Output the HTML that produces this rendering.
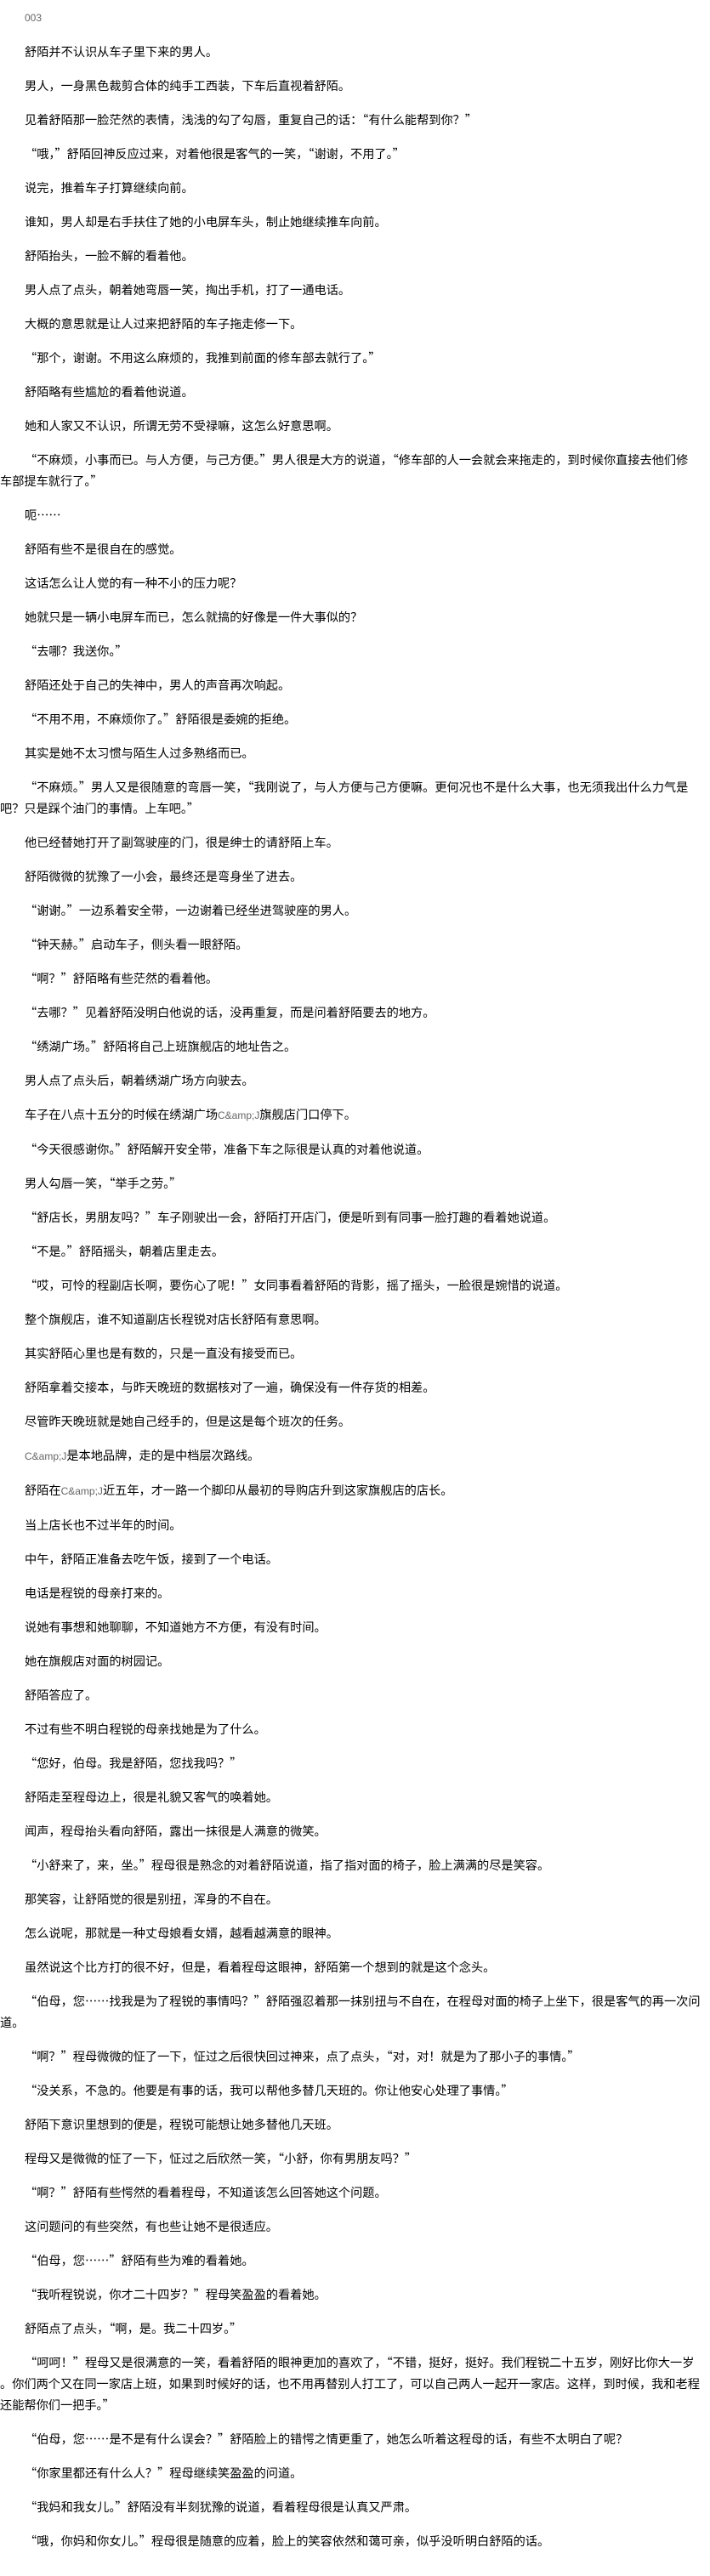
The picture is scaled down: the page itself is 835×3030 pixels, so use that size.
<!DOCTYPE html>
<html><head><meta charset="utf-8">
<style>
html,body{margin:0;padding:0;background:#fff;}
body{width:835px;height:3021px;overflow:hidden;font-family:"Noto Sans CJK SC","Liberation Sans",sans-serif;color:#000;}
.num{margin:9px 0 0 29px;height:25px;line-height:25px;font-size:12px;color:#666;font-family:"Liberation Sans",sans-serif;}
p{margin:15px 0 0 0;line-height:25px;font-size:14.2px;text-indent:29px;white-space:nowrap;font-family:"Noto Sans CJK SC","Liberation Sans",sans-serif;}
.c{color:#666;font-size:12px;font-family:"Liberation Sans",sans-serif;}
</style></head><body>
<div class="num">003</div>
<p>舒陌并不认识从车子里下来的男人。</p>
<p>男人，一身黑色裁剪合体的纯手工西装，下车后直视着舒陌。</p>
<p>见着舒陌那一脸茫然的表情，浅浅的勾了勾唇，重复自己的话：“有什么能帮到你？”</p>
<p>“哦，”舒陌回神反应过来，对着他很是客气的一笑，“谢谢，不用了。”</p>
<p>说完，推着车子打算继续向前。</p>
<p>谁知，男人却是右手扶住了她的小电屏车头，制止她继续推车向前。</p>
<p>舒陌抬头，一脸不解的看着他。</p>
<p>男人点了点头，朝着她弯唇一笑，掏出手机，打了一通电话。</p>
<p>大概的意思就是让人过来把舒陌的车子拖走修一下。</p>
<p>“那个，谢谢。不用这么麻烦的，我推到前面的修车部去就行了。”</p>
<p>舒陌略有些尴尬的看着他说道。</p>
<p>她和人家又不认识，所谓无劳不受禄嘛，这怎么好意思啊。</p>
<p>“不麻烦，小事而已。与人方便，与己方便。”男人很是大方的说道，“修车部的人一会就会来拖走的，到时候你直接去他们修<br>车部提车就行了。”</p>
<p>呃……</p>
<p>舒陌有些不是很自在的感觉。</p>
<p>这话怎么让人觉的有一种不小的压力呢？</p>
<p>她就只是一辆小电屏车而已，怎么就搞的好像是一件大事似的？</p>
<p>“去哪？我送你。”</p>
<p>舒陌还处于自己的失神中，男人的声音再次响起。</p>
<p>“不用不用，不麻烦你了。”舒陌很是委婉的拒绝。</p>
<p>其实是她不太习惯与陌生人过多熟络而已。</p>
<p>“不麻烦。”男人又是很随意的弯唇一笑，“我刚说了，与人方便与己方便嘛。更何况也不是什么大事，也无须我出什么力气是<br>吧？只是踩个油门的事情。上车吧。”</p>
<p>他已经替她打开了副驾驶座的门，很是绅士的请舒陌上车。</p>
<p>舒陌微微的犹豫了一小会，最终还是弯身坐了进去。</p>
<p>“谢谢。”一边系着安全带，一边谢着已经坐进驾驶座的男人。</p>
<p>“钟天赫。”启动车子，侧头看一眼舒陌。</p>
<p>“啊？”舒陌略有些茫然的看着他。</p>
<p>“去哪？”见着舒陌没明白他说的话，没再重复，而是问着舒陌要去的地方。</p>
<p>“绣湖广场。”舒陌将自己上班旗舰店的地址告之。</p>
<p>男人点了点头后，朝着绣湖广场方向驶去。</p>
<p>车子在八点十五分的时候在绣湖广场<span class="c">C&amp;amp;J</span>旗舰店门口停下。</p>
<p>“今天很感谢你。”舒陌解开安全带，准备下车之际很是认真的对着他说道。</p>
<p>男人勾唇一笑，“举手之劳。”</p>
<p>“舒店长，男朋友吗？”车子刚驶出一会，舒陌打开店门，便是听到有同事一脸打趣的看着她说道。</p>
<p>“不是。”舒陌摇头，朝着店里走去。</p>
<p>“哎，可怜的程副店长啊，要伤心了呢！”女同事看着舒陌的背影，摇了摇头，一脸很是婉惜的说道。</p>
<p>整个旗舰店，谁不知道副店长程锐对店长舒陌有意思啊。</p>
<p>其实舒陌心里也是有数的，只是一直没有接受而已。</p>
<p>舒陌拿着交接本，与昨天晚班的数据核对了一遍，确保没有一件存货的相差。</p>
<p>尽管昨天晚班就是她自己经手的，但是这是每个班次的任务。</p>
<p><span class="c">C&amp;amp;J</span>是本地品牌，走的是中档层次路线。</p>
<p>舒陌在<span class="c">C&amp;amp;J</span>近五年，才一路一个脚印从最初的导购店升到这家旗舰店的店长。</p>
<p>当上店长也不过半年的时间。</p>
<p>中午，舒陌正准备去吃午饭，接到了一个电话。</p>
<p>电话是程锐的母亲打来的。</p>
<p>说她有事想和她聊聊，不知道她方不方便，有没有时间。</p>
<p>她在旗舰店对面的树园记。</p>
<p>舒陌答应了。</p>
<p>不过有些不明白程锐的母亲找她是为了什么。</p>
<p>“您好，伯母。我是舒陌，您找我吗？”</p>
<p>舒陌走至程母边上，很是礼貌又客气的唤着她。</p>
<p>闻声，程母抬头看向舒陌，露出一抹很是人满意的微笑。</p>
<p>“小舒来了，来，坐。”程母很是熟念的对着舒陌说道，指了指对面的椅子，脸上满满的尽是笑容。</p>
<p>那笑容，让舒陌觉的很是别扭，浑身的不自在。</p>
<p>怎么说呢，那就是一种丈母娘看女婿，越看越满意的眼神。</p>
<p>虽然说这个比方打的很不好，但是，看着程母这眼神，舒陌第一个想到的就是这个念头。</p>
<p>“伯母，您……找我是为了程锐的事情吗？”舒陌强忍着那一抹别扭与不自在，在程母对面的椅子上坐下，很是客气的再一次问<br>道。</p>
<p>“啊？”程母微微的怔了一下，怔过之后很快回过神来，点了点头，“对，对！就是为了那小子的事情。”</p>
<p>“没关系，不急的。他要是有事的话，我可以帮他多替几天班的。你让他安心处理了事情。”</p>
<p>舒陌下意识里想到的便是，程锐可能想让她多替他几天班。</p>
<p>程母又是微微的怔了一下，怔过之后欣然一笑，“小舒，你有男朋友吗？”</p>
<p>“啊？”舒陌有些愕然的看着程母，不知道该怎么回答她这个问题。</p>
<p>这问题问的有些突然，有也些让她不是很适应。</p>
<p>“伯母，您……”舒陌有些为难的看着她。</p>
<p>“我听程锐说，你才二十四岁？”程母笑盈盈的看着她。</p>
<p>舒陌点了点头，“啊，是。我二十四岁。”</p>
<p>“呵呵！”程母又是很满意的一笑，看着舒陌的眼神更加的喜欢了，“不错，挺好，挺好。我们程锐二十五岁，刚好比你大一岁<br>。你们两个又在同一家店上班，如果到时候好的话，也不用再替别人打工了，可以自己两人一起开一家店。这样，到时候，我和老程<br>还能帮你们一把手。”</p>
<p>“伯母，您……是不是有什么误会？”舒陌脸上的错愕之情更重了，她怎么听着这程母的话，有些不太明白了呢？</p>
<p>“你家里都还有什么人？”程母继续笑盈盈的问道。</p>
<p>“我妈和我女儿。”舒陌没有半刻犹豫的说道，看着程母很是认真又严肃。</p>
<p>“哦，你妈和你女儿。”程母很是随意的应着，脸上的笑容依然和蔼可亲，似乎没听明白舒陌的话。</p>
</body></html>
